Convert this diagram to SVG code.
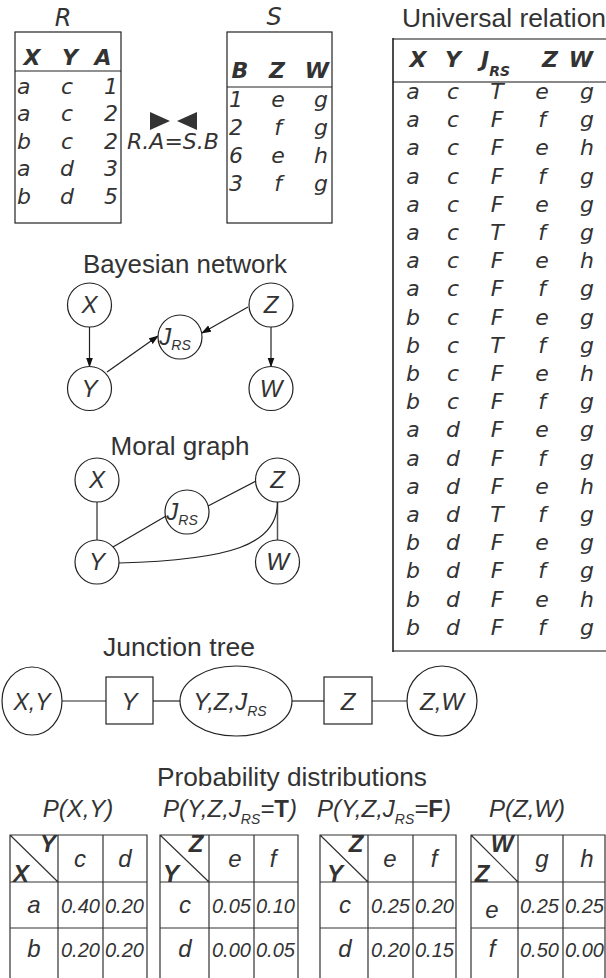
<svg xmlns="http://www.w3.org/2000/svg" width="606" height="978" viewBox="0 0 606 978">
<style>
.bg{fill:#fff}
.d{font-family:"DejaVu Sans",sans-serif;font-style:oblique;fill:#333;font-size:22px}
.db{font-family:"DejaVu Sans",sans-serif;font-style:oblique;font-weight:bold;fill:#333;font-size:22px}
.ti{font-family:"Liberation Sans",Arial,sans-serif;fill:#333;font-size:25px;text-anchor:middle}
.l{font-family:"Liberation Sans",Arial,sans-serif;font-style:italic;fill:#333;font-size:24px;text-anchor:middle}
.lb{font-family:"Liberation Sans",Arial,sans-serif;font-style:italic;font-weight:bold;fill:#333;font-size:24px;text-anchor:middle}
.sub{font-size:14px}
.v{font-family:"Liberation Sans",Arial,sans-serif;font-style:italic;fill:#333;font-size:20px}
.m{text-anchor:middle}
.e{text-anchor:end}
.node{fill:#fff;stroke:#222;stroke-width:1.2}
.box{fill:none;stroke:#222;stroke-width:1.2}
.gl{stroke:#888;stroke-width:2}
.ln{stroke:#222;stroke-width:1.2;fill:none}
.lg{stroke:#555;stroke-width:1.5;fill:none}
.tb{stroke:#333;stroke-width:1.2;fill:none}
</style>
<defs>
<marker id="ah" markerWidth="10" markerHeight="8" refX="9" refY="4" orient="auto" markerUnits="userSpaceOnUse">
<path d="M0,0.5 L10,4 L0,7.5 Z" fill="#111"/>
</marker>
</defs>
<rect class="bg" x="0" y="0" width="606" height="978"/>

<!-- R table -->
<g id="tableR">
<text class="d m" x="63" y="26" style="font-size:24px">R</text>
<rect class="box" x="15" y="32" width="106" height="191"/>
<line class="ln" x1="15" y1="71" x2="121" y2="71"/>
<text class="db m" x="32" y="65">X</text><text class="db m" x="70" y="65">Y</text><text class="db m" x="103" y="65">A</text>
<text class="d" x="17" y="94">a</text><text class="d m" x="67" y="94">c</text><text class="d e" x="118" y="94">1</text>
<text class="d" x="17" y="121">a</text><text class="d m" x="67" y="121">c</text><text class="d e" x="118" y="121">2</text>
<text class="d" x="17" y="149">b</text><text class="d m" x="67" y="149">c</text><text class="d e" x="118" y="149">2</text>
<text class="d" x="17" y="176">a</text><text class="d m" x="67" y="176">d</text><text class="d e" x="118" y="176">3</text>
<text class="d" x="17" y="204">b</text><text class="d m" x="67" y="204">d</text><text class="d e" x="118" y="204">5</text>
</g>

<!-- join -->
<g id="join">
<path d="M150,112 L150,130 L170,121 Z" fill="#333"/>
<path d="M197,112 L197,130 L177,121 Z" fill="#333"/>
<text class="d m" x="173" y="149">R.A=S.B</text>
</g>

<!-- S table -->
<g id="tableS">
<text class="d m" x="274" y="25" style="font-size:24px">S</text>
<rect class="box" x="227" y="32" width="105" height="191"/>
<line class="ln" x1="227" y1="87" x2="332" y2="87"/>
<text class="db m" x="240" y="78">B</text><text class="db m" x="277" y="78">Z</text><text class="db m" x="317" y="78">W</text>
<text class="d" x="229" y="107">1</text><text class="d m" x="278" y="107">e</text><text class="d e" x="328" y="107">g</text>
<text class="d" x="229" y="135">2</text><text class="d m" x="278" y="135">f</text><text class="d e" x="328" y="135">g</text>
<text class="d" x="229" y="163">6</text><text class="d m" x="278" y="163">e</text><text class="d e" x="328" y="163">h</text>
<text class="d" x="229" y="191">3</text><text class="d m" x="278" y="191">f</text><text class="d e" x="328" y="191">g</text>
</g>

<!-- Universal relation -->
<g id="universal">
<text class="ti" x="504" y="27" textLength="204" lengthAdjust="spacingAndGlyphs">Universal relation</text>
<line class="gl" x1="393" y1="39" x2="606" y2="39"/>
<line class="gl" x1="393" y1="82" x2="606" y2="82"/>
<line class="gl" x1="393" y1="651" x2="606" y2="651"/>
<line x1="393" y1="38" x2="393" y2="652" stroke="#111" stroke-width="1.5"/>
<text class="db m" x="418" y="67">X</text><text class="db m" x="453" y="67">Y</text>
<text class="db" x="481" y="67">J<tspan class="sub" dy="9">RS</tspan></text>
<text class="db m" x="550" y="67">Z</text><text class="db m" x="581" y="67">W</text>
<g class="d m">
<text x="413" y="99">a</text><text x="453" y="99">c</text><text x="497" y="99">T</text><text x="542" y="99">e</text><text x="587" y="99">g</text>
<text x="413" y="127.2">a</text><text x="453" y="127.2">c</text><text x="497" y="127.2">F</text><text x="542" y="127.2">f</text><text x="587" y="127.2">g</text>
<text x="413" y="155.4">a</text><text x="453" y="155.4">c</text><text x="497" y="155.4">F</text><text x="542" y="155.4">e</text><text x="587" y="155.4">h</text>
<text x="413" y="183.6">a</text><text x="453" y="183.6">c</text><text x="497" y="183.6">F</text><text x="542" y="183.6">f</text><text x="587" y="183.6">g</text>
<text x="413" y="211.8">a</text><text x="453" y="211.8">c</text><text x="497" y="211.8">F</text><text x="542" y="211.8">e</text><text x="587" y="211.8">g</text>
<text x="413" y="240">a</text><text x="453" y="240">c</text><text x="497" y="240">T</text><text x="542" y="240">f</text><text x="587" y="240">g</text>
<text x="413" y="268.2">a</text><text x="453" y="268.2">c</text><text x="497" y="268.2">F</text><text x="542" y="268.2">e</text><text x="587" y="268.2">h</text>
<text x="413" y="296.4">a</text><text x="453" y="296.4">c</text><text x="497" y="296.4">F</text><text x="542" y="296.4">f</text><text x="587" y="296.4">g</text>
<text x="413" y="324.6">b</text><text x="453" y="324.6">c</text><text x="497" y="324.6">F</text><text x="542" y="324.6">e</text><text x="587" y="324.6">g</text>
<text x="413" y="352.8">b</text><text x="453" y="352.8">c</text><text x="497" y="352.8">T</text><text x="542" y="352.8">f</text><text x="587" y="352.8">g</text>
<text x="413" y="381">b</text><text x="453" y="381">c</text><text x="497" y="381">F</text><text x="542" y="381">e</text><text x="587" y="381">h</text>
<text x="413" y="409.2">b</text><text x="453" y="409.2">c</text><text x="497" y="409.2">F</text><text x="542" y="409.2">f</text><text x="587" y="409.2">g</text>
<text x="413" y="437.4">a</text><text x="453" y="437.4">d</text><text x="497" y="437.4">F</text><text x="542" y="437.4">e</text><text x="587" y="437.4">g</text>
<text x="413" y="465.6">a</text><text x="453" y="465.6">d</text><text x="497" y="465.6">F</text><text x="542" y="465.6">f</text><text x="587" y="465.6">g</text>
<text x="413" y="493.8">a</text><text x="453" y="493.8">d</text><text x="497" y="493.8">F</text><text x="542" y="493.8">e</text><text x="587" y="493.8">h</text>
<text x="413" y="522">a</text><text x="453" y="522">d</text><text x="497" y="522">T</text><text x="542" y="522">f</text><text x="587" y="522">g</text>
<text x="413" y="550.2">b</text><text x="453" y="550.2">d</text><text x="497" y="550.2">F</text><text x="542" y="550.2">e</text><text x="587" y="550.2">g</text>
<text x="413" y="578.4">b</text><text x="453" y="578.4">d</text><text x="497" y="578.4">F</text><text x="542" y="578.4">f</text><text x="587" y="578.4">g</text>
<text x="413" y="606.6">b</text><text x="453" y="606.6">d</text><text x="497" y="606.6">F</text><text x="542" y="606.6">e</text><text x="587" y="606.6">h</text>
<text x="413" y="634.8">b</text><text x="453" y="634.8">d</text><text x="497" y="634.8">F</text><text x="542" y="634.8">f</text><text x="587" y="634.8">g</text>
</g>
</g>

<!-- Bayesian network -->
<text class="ti" x="185" y="273" textLength="204" lengthAdjust="spacingAndGlyphs">Bayesian network</text>
<g id="bn-edges">
<line class="ln" x1="89.5" y1="327" x2="89.5" y2="366.5" marker-end="url(#ah)"/>
<line class="ln" x1="271" y1="327" x2="271" y2="366.5" marker-end="url(#ah)"/>
<line class="ln" x1="107" y1="372" x2="158" y2="336" marker-end="url(#ah)"/>
<line class="ln" x1="248" y1="307" x2="202" y2="333" marker-end="url(#ah)"/>
</g>
<g id="bn-X"><circle class="node" cx="89.5" cy="305" r="22"/><text class="l" x="89.5" y="313">X</text></g>
<g id="bn-Y"><circle class="node" cx="89.5" cy="388.5" r="22"/><text class="l" x="89.5" y="397">Y</text></g>
<g id="bn-J"><circle class="node" cx="180" cy="337" r="22"/><text class="l" x="175" y="345">J<tspan class="sub" dy="5">RS</tspan></text></g>
<g id="bn-Z"><circle class="node" cx="271" cy="305" r="22"/><text class="l" x="271" y="313">Z</text></g>
<g id="bn-W"><circle class="node" cx="271" cy="388.5" r="22"/><text class="l" x="271" y="397">W</text></g>

<!-- Moral graph -->
<text class="ti" x="180" y="455" textLength="139" lengthAdjust="spacingAndGlyphs">Moral graph</text>
<g id="mg-edges">
<line class="lg" x1="97" y1="502" x2="97" y2="540"/>
<line class="lg" x1="277.5" y1="502" x2="277.5" y2="540"/>
<line class="ln" x1="113" y1="547" x2="166" y2="516"/>
<line class="ln" x1="208" y1="506" x2="256" y2="481"/>
<path class="ln" d="M119,563 C230,560 278,545 277.5,502"/>
</g>
<g id="mg-X"><circle class="node" cx="97" cy="480" r="22"/><text class="l" x="97" y="488">X</text></g>
<g id="mg-Y"><circle class="node" cx="97" cy="562" r="22"/><text class="l" x="97" y="570">Y</text></g>
<g id="mg-J"><circle class="node" cx="187" cy="512" r="22"/><text class="l" x="182" y="520">J<tspan class="sub" dy="5">RS</tspan></text></g>
<g id="mg-Z"><circle class="node" cx="277.5" cy="480" r="22"/><text class="l" x="277.5" y="488">Z</text></g>
<g id="mg-W"><circle class="node" cx="277.5" cy="562" r="22"/><text class="l" x="277.5" y="570">W</text></g>

<!-- Junction tree -->
<text class="ti" x="179" y="656" textLength="152" lengthAdjust="spacingAndGlyphs">Junction tree</text>
<g id="jt-edges">
<line class="ln" x1="62" y1="701" x2="106" y2="701"/>
<line class="ln" x1="153" y1="701" x2="180" y2="701"/>
<line class="ln" x1="292" y1="701" x2="324" y2="701"/>
<line class="ln" x1="372" y1="701" x2="407" y2="701"/>
</g>
<g id="jt-XY"><ellipse class="node" cx="32" cy="701" rx="30" ry="34"/><text class="l" x="32" y="710" style="font-size:23px">X,Y</text></g>
<g id="jt-Y"><rect class="node" x="106" y="677" width="47" height="47"/><text class="l" x="129.5" y="710">Y</text></g>
<g id="jt-YZJ"><ellipse class="node" cx="236" cy="701" rx="56" ry="35"/><text class="l" x="230" y="710">Y,Z,J<tspan class="sub" dy="6">RS</tspan></text></g>
<g id="jt-Z"><rect class="node" x="324" y="677" width="48" height="47"/><text class="l" x="348" y="710">Z</text></g>
<g id="jt-ZW"><circle class="node" cx="442" cy="701" r="35"/><text class="l" x="442" y="710">Z,W</text></g>

<!-- Probability distributions -->
<text class="ti" x="292" y="786" textLength="270" lengthAdjust="spacingAndGlyphs">Probability distributions</text>

<g id="pXY">
<text class="l" x="78" y="817">P(X,Y)</text>
<path class="tb" d="M10,978 V835 H147 V978 M58,835 V978 M103,835 V978 M10,882 H147 M10,928 H147 M10,835 L58,882"/>
<text class="lb" x="48" y="852">Y</text><text class="lb" x="21" y="882">X</text>
<text class="l" x="80" y="867">c</text><text class="l" x="125" y="867">d</text>
<text class="l" x="34" y="913">a</text><text class="v" x="61" y="913">0.40</text><text class="v" x="105" y="913">0.20</text>
<text class="l" x="34" y="957">b</text><text class="v" x="61" y="957">0.20</text><text class="v" x="105" y="957">0.20</text>
</g>

<g id="pYZJT">
<text class="l" x="163" y="817" style="text-anchor:start">P(Y,Z,J<tspan class="sub" dy="7">RS</tspan><tspan dy="-7">=</tspan><tspan font-weight="bold" font-style="normal">T</tspan>)</text>
<path class="tb" d="M160,978 V835 H298 V978 M209,835 V978 M254,835 V978 M160,882 H298 M160,928 H298 M160,835 L209,882"/>
<text class="lb" x="196" y="852">Z</text><text class="lb" x="171" y="882">Y</text>
<text class="l" x="235" y="867">e</text><text class="l" x="273" y="867">f</text>
<text class="l" x="185" y="913">c</text><text class="v" x="212" y="913">0.05</text><text class="v" x="256" y="913">0.10</text>
<text class="l" x="185" y="957">d</text><text class="v" x="212" y="957">0.00</text><text class="v" x="256" y="957">0.05</text>
</g>

<g id="pYZJF">
<text class="l" x="317" y="817" style="text-anchor:start">P(Y,Z,J<tspan class="sub" dy="7">RS</tspan><tspan dy="-7">=</tspan><tspan font-weight="bold" font-style="normal">F</tspan>)</text>
<path class="tb" d="M320,978 V835 H456 V978 M368,835 V978 M413,835 V978 M320,882 H456 M320,928 H456 M320,835 L368,882"/>
<text class="lb" x="356" y="852">Z</text><text class="lb" x="335" y="882">Y</text>
<text class="l" x="390" y="867">e</text><text class="l" x="434" y="867">f</text>
<text class="l" x="345" y="913">c</text><text class="v" x="371" y="913">0.25</text><text class="v" x="415" y="913">0.20</text>
<text class="l" x="345" y="957">d</text><text class="v" x="371" y="957">0.20</text><text class="v" x="415" y="957">0.15</text>
</g>

<g id="pZW">
<text class="l" x="527" y="817">P(Z,W)</text>
<path class="tb" d="M471,978 V835 H605 V978 M518,835 V978 M563,835 V978 M471,882 H605 M471,928 H605 M471,835 L518,882"/>
<text class="lb" x="502" y="852">W</text><text class="lb" x="482" y="882">Z</text>
<text class="l" x="542" y="867">g</text><text class="l" x="587" y="867">h</text>
<text class="l" x="492" y="918">e</text><text class="v" x="520" y="913">0.25</text><text class="v" x="565" y="913">0.25</text>
<text class="l" x="492" y="957">f</text><text class="v" x="520" y="957">0.50</text><text class="v" x="565" y="957">0.00</text>
</g>
</svg>
